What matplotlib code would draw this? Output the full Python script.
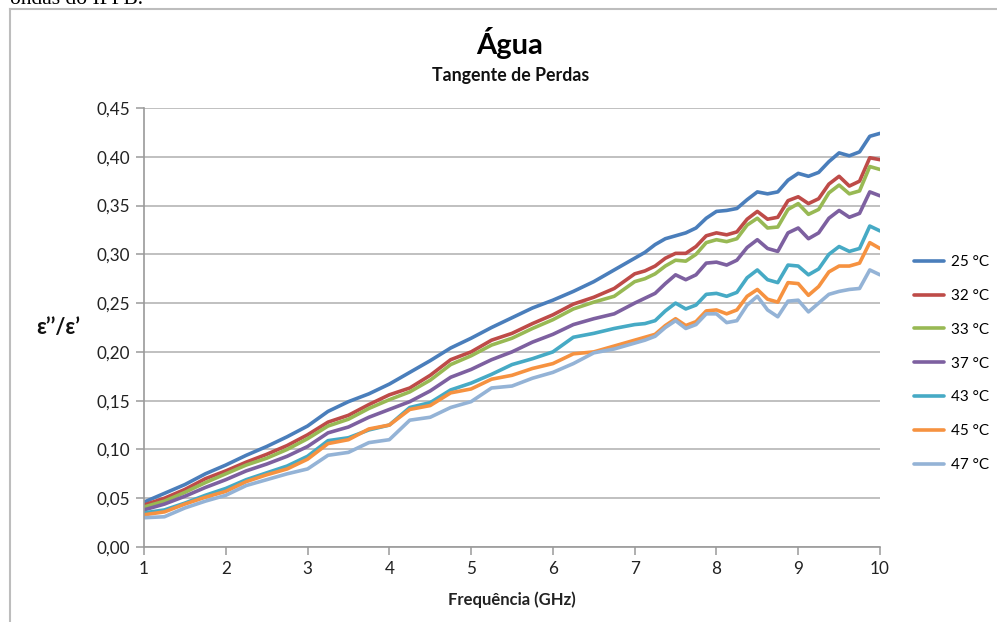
import matplotlib
matplotlib.use("Agg")
import matplotlib.pyplot as plt
from matplotlib.lines import Line2D
from matplotlib.ticker import FuncFormatter, MultipleLocator

plt.rcParams['font.family'] = ['Lato', 'DejaVu Sans']

freq = [1.0, 1.25, 1.5, 1.75, 2.0, 2.25, 2.5, 2.75, 3.0, 3.25, 3.5, 3.75,
        4.0, 4.25, 4.5, 4.75, 5.0, 5.25, 5.5, 5.75, 6.0, 6.25, 6.5, 6.75,
        7.0, 7.125, 7.25, 7.375, 7.5, 7.625, 7.75, 7.875, 8.0, 8.125, 8.25,
        8.375, 8.5, 8.625, 8.75, 8.875, 9.0, 9.125, 9.25, 9.375, 9.5, 9.625,
        9.75, 9.875, 10.0]

t25 = [0.046, 0.055, 0.064, 0.075, 0.084, 0.094, 0.103, 0.113, 0.124, 0.139, 0.149, 0.157,
       0.167, 0.179, 0.191, 0.204, 0.214, 0.225, 0.235, 0.245, 0.253, 0.262, 0.272, 0.284,
       0.296, 0.302, 0.310, 0.316, 0.319, 0.322, 0.327, 0.337, 0.344, 0.345, 0.347,
       0.356, 0.364, 0.362, 0.364, 0.376, 0.383, 0.380, 0.384, 0.395, 0.404, 0.401,
       0.405, 0.421, 0.424]
t32 = [0.043, 0.050, 0.059, 0.070, 0.078, 0.087, 0.095, 0.104, 0.115, 0.128, 0.135, 0.146,
       0.156, 0.163, 0.176, 0.192, 0.200, 0.212, 0.219, 0.229, 0.238, 0.249, 0.256, 0.265,
       0.280, 0.283, 0.288, 0.296, 0.301, 0.301, 0.308, 0.319, 0.322, 0.320, 0.323,
       0.336, 0.344, 0.336, 0.338, 0.355, 0.359, 0.352, 0.357, 0.372, 0.380, 0.370,
       0.375, 0.399, 0.397]
t33 = [0.041, 0.047, 0.056, 0.066, 0.075, 0.084, 0.091, 0.100, 0.111, 0.124, 0.131, 0.142,
       0.151, 0.159, 0.171, 0.187, 0.196, 0.207, 0.214, 0.224, 0.233, 0.244, 0.251, 0.257,
       0.272, 0.275, 0.280, 0.288, 0.294, 0.293, 0.300, 0.312, 0.315, 0.313, 0.316,
       0.330, 0.337, 0.327, 0.328, 0.346, 0.352, 0.341, 0.346, 0.363, 0.371, 0.362,
       0.365, 0.390, 0.387]
t37 = [0.038, 0.044, 0.052, 0.061, 0.069, 0.078, 0.085, 0.093, 0.103, 0.117, 0.123, 0.133,
       0.141, 0.149, 0.160, 0.174, 0.182, 0.192, 0.200, 0.210, 0.218, 0.228, 0.234, 0.239,
       0.250, 0.255, 0.260, 0.270, 0.279, 0.274, 0.279, 0.291, 0.292, 0.289, 0.294,
       0.307, 0.315, 0.306, 0.303, 0.322, 0.327, 0.316, 0.322, 0.337, 0.345, 0.338,
       0.342, 0.364, 0.360]
t43 = [0.035, 0.038, 0.045, 0.053, 0.060, 0.069, 0.076, 0.083, 0.093, 0.109, 0.112, 0.120,
       0.125, 0.143, 0.148, 0.161, 0.168, 0.177, 0.187, 0.193, 0.200, 0.215, 0.219, 0.224,
       0.228, 0.229, 0.232, 0.242, 0.250, 0.244, 0.248, 0.259, 0.260, 0.257, 0.261,
       0.276, 0.284, 0.274, 0.271, 0.289, 0.288, 0.279, 0.285, 0.300, 0.308, 0.303,
       0.306, 0.329, 0.324]
t45 = [0.033, 0.036, 0.044, 0.051, 0.057, 0.067, 0.074, 0.080, 0.090, 0.106, 0.110, 0.121,
       0.125, 0.141, 0.145, 0.158, 0.162, 0.172, 0.176, 0.183, 0.188, 0.198, 0.200, 0.206,
       0.212, 0.215, 0.218, 0.227, 0.234, 0.227, 0.231, 0.242, 0.243, 0.239, 0.243,
       0.257, 0.264, 0.254, 0.251, 0.271, 0.270, 0.258, 0.267, 0.282, 0.288, 0.288,
       0.291, 0.312, 0.306]
t47 = [0.030, 0.031, 0.040, 0.047, 0.053, 0.063, 0.069, 0.075, 0.080, 0.094, 0.097, 0.107,
       0.110, 0.130, 0.133, 0.143, 0.149, 0.163, 0.165, 0.173, 0.179, 0.188, 0.199, 0.203,
       0.209, 0.212, 0.216, 0.225, 0.232, 0.224, 0.228, 0.239, 0.239, 0.230, 0.232,
       0.248, 0.257, 0.243, 0.236, 0.252, 0.253, 0.241, 0.250, 0.259, 0.262, 0.264,
       0.265, 0.284, 0.279]

series = [t25, t32, t33, t37, t43, t45, t47]
labels = ['25 °C', '32 °C', '33 °C', '37 °C', '43 °C', '45 °C', '47 °C']
colors = ['#4A7EBB', '#BE4B48', '#98B954', '#7D60A0', '#46AAC5', '#F69240', '#94B3D6']

x_ticks = [1, 2, 3, 4, 5, 6, 7, 8, 9, 10]

W, H = 997, 622
fig = plt.figure(figsize=(W / 100, H / 100), dpi=100)
fig.patch.set_facecolor('white')

# outer chart frame (partially cut off) and caption fragment above it
fig.add_artist(Line2D([10 / W, 1.0], [1 - 8.5 / H, 1 - 8.5 / H], color='#bdbdbd', lw=1.5,
                      transform=fig.transFigure))
fig.add_artist(Line2D([10 / W, 10 / W], [0, 1 - 8.5 / H], color='#bdbdbd', lw=1.5,
                      transform=fig.transFigure))
fig.text(10 / W, 1 - 4.5 / H, 'ondas do IFPB.', family=['Liberation Serif'], fontsize=15.5,
         ha='left', va='baseline', color='black')

ax = fig.add_axes([144 / W, 1 - 547 / H, 736 / W, 439 / H])
for s, lab, c in zip(series, labels, colors):
    ax.plot(freq, s, color=c, lw=2.6, label=lab, solid_joinstyle='round',
            solid_capstyle='round')

ax.set_xlim(1, 10)
ax.set_ylim(0, 0.45)
ax.set_xticks(x_ticks)
ax.yaxis.set_major_locator(MultipleLocator(0.05))
ax.yaxis.set_major_formatter(FuncFormatter(lambda v, p: f'{v:.2f}'.replace('.', ',')))
ax.grid(axis='y', color='#b5b5b5', lw=1.2)
ax.set_axisbelow(True)
for sp in ['top', 'right']:
    ax.spines[sp].set_visible(False)
for sp in ['left', 'bottom']:
    ax.spines[sp].set_color('#9a9a9a')
    ax.spines[sp].set_linewidth(1.2)
ax.tick_params(axis='both', direction='out', length=6, width=1.1, color='#9a9a9a',
               labelsize=12.3, labelcolor='#222222')
ax.tick_params(axis='x', pad=4)
ax.tick_params(axis='y', pad=4)

fig.text(510 / W, 1 - 43 / H, 'Água', fontsize=21, fontweight='bold', ha='center',
         va='center', color='black')
fig.text(511 / W, 1 - 75 / H, 'Tangente de Perdas', fontsize=12.8, fontweight='bold',
         ha='center', va='center', color='#111111')
fig.text(512 / W, 1 - 600 / H, 'Frequência (GHz)', fontsize=12, fontweight='bold',
         ha='center', va='center', color='#222222')
fig.text(58 / W, 1 - 328 / H, 'ε’’/ε’', fontsize=15.5, fontweight='bold',
         ha='center', va='center', color='#111111', family=['Lato', 'DejaVu Sans'])

ax.legend(loc='upper left', bbox_to_anchor=(914 / W, 1 - 255 / H),
          bbox_transform=fig.transFigure, frameon=False, fontsize=11,
          handlelength=1.96, handletextpad=0.45, labelspacing=1.3,
          borderpad=0, borderaxespad=0)

fig.savefig('out.png', dpi=100, facecolor='white')
